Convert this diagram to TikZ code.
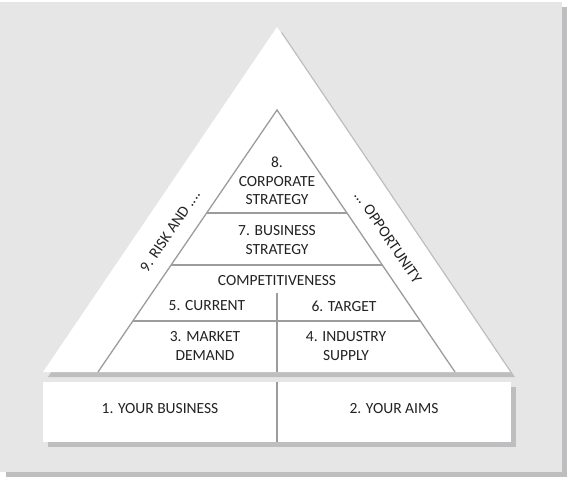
\documentclass[tikz,border=0pt]{standalone}
\usepackage{fontspec}
\setmainfont{Carlito}
\usetikzlibrary{calc}
\definecolor{bggray}{HTML}{E6E6E6}
\definecolor{shadowgray}{HTML}{BEBEC0}
\definecolor{linegray}{HTML}{9C9C9C}
\definecolor{txt}{HTML}{222222}
\tikzset{
  lbl/.style={text=txt, font=\fontsize{15.5}{18.5}\selectfont, align=center, inner sep=0pt},
  sep/.style={draw=linegray, line width=1.3pt},
}
\begin{document}
\begin{tikzpicture}[x=1pt,y=-1pt]
\useasboundingbox (0,0) rectangle (570,479);
% background panel
\fill[shadowgray] (6,7) rectangle (567,477);
\fill[bggray] (0,2) rectangle (562,472);
% big triangle
\fill[shadowgray] (282,32) -- (48,377) -- (515,377) -- cycle;
\fill[white] (277,27) -- (43,372) -- (510,372) -- cycle;
% bottom boxes
\fill[shadowgray] (48,387) rectangle (516,447);
\fill[white] (43,382) rectangle (511,442);
\coordinate (bt) at (277,382);
\coordinate (bb) at (277,442);
\draw[sep] (bt) -- (bb);
% inner triangle
\coordinate (A) at (277,110);
\coordinate (L) at (98,372);
\coordinate (R) at (455,372);
\draw[sep, line join=miter] (L) -- (A) -- (R);
\coordinate (l1) at ($(A)!0.393!(L)$); \coordinate (r1) at ($(A)!0.393!(R)$);
\coordinate (l2) at ($(A)!0.592!(L)$); \coordinate (r2) at ($(A)!0.592!(R)$);
\coordinate (l3) at ($(A)!0.805!(L)$); \coordinate (r3) at ($(A)!0.805!(R)$);
\draw[sep] (l1) -- (r1);
\draw[sep] (l2) -- (r2);
\draw[sep] (l3) -- (r3);
\coordinate (vt) at (277,293);
\coordinate (vb) at (277,372);
\draw[sep] (vt) -- (vb);
% labels
\node[lbl] (n8) at (277,181) {8.\\CORPORATE\\STRATEGY};
\node[lbl] (n7) at (277,240) {7. BUSINESS\\STRATEGY};
\node[lbl] (nc) at (277,281) {COMPETITIVENESS};
\node[lbl] (n5) at (207,306) {5. CURRENT};
\node[lbl] (n6) at (344,306) {6. TARGET};
\node[lbl] (n3) at (205,346) {3. MARKET\\DEMAND};
\node[lbl] (n4) at (346,346) {4. INDUSTRY\\SUPPLY};
\node[lbl] (n1) at (160,409) {1. YOUR BUSINESS};
\node[lbl] (n2) at (394,409) {2. YOUR AIMS};
\node[lbl, rotate=55.8] (n9) at (170,231) {9. RISK AND ....};
\node[lbl, rotate=-55.8] (n9b) at (388,237) {... OPPORTUNITY};
\end{tikzpicture}
\end{document}
